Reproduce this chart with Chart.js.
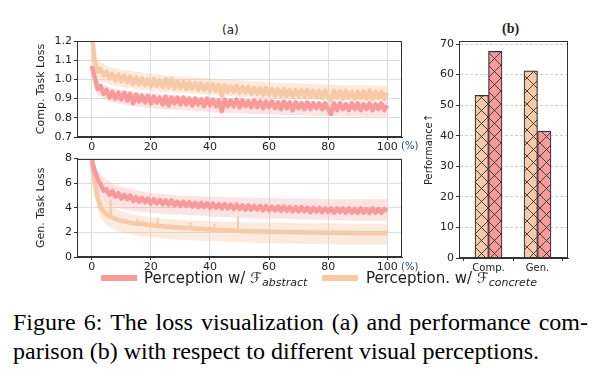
<!DOCTYPE html>
<html>
<head>
<meta charset="utf-8">
<script src="https://cdn.jsdelivr.net/npm/chart.js@4.4.0/dist/chart.umd.min.js"></script>
<style>
  body { margin: 0; width: 604px; height: 390px; background: #fff; position: relative; overflow: hidden; font-family: "DejaVu Sans", sans-serif; color: #222; }
  canvas { position: absolute; }
  .lbl { position: absolute; white-space: nowrap; }
  .swatch { position: absolute; width: 36px; height: 6px; }
  .leg { font-size: 15px; line-height: 18px; }
  .calF { font-family: "DejaVu Sans", sans-serif; font-style: italic; }
  .sub { font-size: 11px; font-style: italic; position: relative; top: 3px; }
  .pct { font-size: 10px; color: #1d3f8f; }
  .caption { position: absolute; left: 13px; font-family: "Liberation Serif", serif; font-size: 24px; line-height: 29px; color: #000; white-space: nowrap; }
</style>
</head>
<body>
<div class="lbl" style="left:222px;top:23px;font-size:12px;">(a)</div>
<div class="lbl" style="left:502px;top:21px;font-size:14px;font-family:'Liberation Serif',serif;font-weight:bold;">(b)</div>

<canvas id="compChart" width="420" height="152" style="left:0;top:0"></canvas>
<canvas id="genChart" width="420" height="122" style="left:0;top:150px"></canvas>
<canvas id="perfChart" width="184" height="275" style="left:420px;top:0"></canvas>

<div class="lbl pct" style="left:401px;top:140px;">(%)</div>
<div class="lbl pct" style="left:401px;top:261px;">(%)</div>

<div class="swatch" style="left:101px;top:275px;background:#f99a9a;"></div>
<div class="lbl leg" style="left:144px;top:269px;">Perception w/ <span class="calF">ℱ</span><span class="sub">abstract</span></div>
<div class="swatch" style="left:322px;top:275px;background:#f8c9a6;"></div>
<div class="lbl leg" style="left:366px;top:269px;">Perception. w/ <span class="calF">ℱ</span><span class="sub">concrete</span></div>

<div class="caption" style="top:308px;width:575px;text-align:justify;text-align-last:justify;">Figure 6: The loss visualization (a) and performance com-</div>
<div class="caption" style="top:337px;">parison (b) with respect to different visual perceptions.</div>

<script>
// training progress in %
const steps = Array.from({ length: 101 }, (_, i) => i);

const compAbstract = [1.07, 1.01, 0.95, 0.965, 0.925, 0.945, 0.905, 0.935, 0.90, 0.93,
  0.895, 0.93, 0.89, 0.925, 0.875, 0.92, 0.885, 0.915, 0.88, 0.915,
  0.875, 0.91, 0.88, 0.905, 0.87, 0.91, 0.865, 0.905, 0.875, 0.905,
  0.87, 0.905, 0.87, 0.90, 0.865, 0.90, 0.87, 0.895, 0.86, 0.90,
  0.865, 0.895, 0.86, 0.89, 0.835, 0.895, 0.86, 0.89, 0.86, 0.895,
  0.855, 0.89, 0.86, 0.885, 0.855, 0.89, 0.855, 0.885, 0.85, 0.885,
  0.855, 0.885, 0.85, 0.88, 0.845, 0.885, 0.85, 0.88, 0.84, 0.88,
  0.85, 0.875, 0.845, 0.88, 0.845, 0.875, 0.85, 0.875, 0.845, 0.875,
  0.845, 0.82, 0.875, 0.84, 0.875, 0.845, 0.87, 0.84, 0.875, 0.845,
  0.875, 0.84, 0.87, 0.845, 0.875, 0.84, 0.87, 0.845, 0.875, 0.84, 0.865];
const compConcrete = [1.25, 1.09, 1.04, 1.055, 1.02, 1.04, 1.005, 1.03, 0.995, 1.025,
  0.99, 1.02, 0.985, 1.015, 0.975, 1.01, 0.975, 1.005, 0.97, 1.00,
  0.965, 1.00, 0.965, 0.995, 0.96, 1.00, 0.96, 1.00, 0.955, 0.99,
  0.955, 0.985, 0.95, 0.985, 0.95, 0.98, 0.945, 0.98, 0.945, 0.975,
  0.94, 0.975, 0.94, 0.97, 0.915, 0.97, 0.935, 0.965, 0.935, 0.965,
  0.93, 0.96, 0.93, 0.96, 0.925, 0.955, 0.925, 0.955, 0.92, 0.955,
  0.92, 0.95, 0.915, 0.95, 0.915, 0.95, 0.915, 0.945, 0.91, 0.945,
  0.915, 0.945, 0.91, 0.945, 0.91, 0.94, 0.91, 0.94, 0.905, 0.94,
  0.905, 0.895, 0.94, 0.905, 0.94, 0.90, 0.94, 0.905, 0.935, 0.90,
  0.935, 0.905, 0.935, 0.90, 0.94, 0.90, 0.935, 0.905, 0.935, 0.90, 0.93];
const genAbstract = [7.9, 7.0, 6.3, 5.9, 5.4, 5.5, 5.05, 5.35, 4.9, 5.2,
  4.75, 5.05, 4.7, 5.0, 4.55, 4.85, 4.5, 4.8, 4.45, 4.75,
  4.35, 4.7, 4.35, 4.65, 4.3, 4.6, 4.25, 4.6, 4.2, 4.5,
  4.15, 4.5, 4.15, 4.45, 4.1, 4.4, 4.05, 4.4, 4.05, 4.35,
  4.0, 4.35, 4.0, 4.3, 3.95, 4.3, 3.95, 4.25, 3.9, 4.25,
  3.9, 4.2, 3.85, 4.2, 3.85, 4.15, 3.85, 4.15, 3.8, 4.15,
  3.8, 4.1, 3.8, 4.1, 3.75, 4.1, 3.75, 4.05, 3.7, 4.05,
  3.7, 4.05, 3.7, 4.0, 3.65, 4.0, 3.7, 4.0, 3.65, 3.95,
  3.65, 3.95, 3.6, 3.95, 3.65, 3.95, 3.6, 3.95, 3.6, 3.9,
  3.6, 3.95, 3.6, 3.9, 3.6, 3.95, 3.6, 3.9, 3.6, 3.9, 3.75];
const genConcrete = [7.6, 6.0, 4.8, 4.1, 3.7, 3.5, 3.3, 3.2, 3.1, 3.0,
  2.95, 2.9, 2.85, 2.8, 2.75, 2.7, 2.7, 2.7, 2.65, 2.6,
  2.6, 2.55, 2.55, 2.5, 2.5, 2.45, 2.45, 2.45, 2.4, 2.4,
  2.4, 2.35, 2.35, 2.35, 2.35, 2.3, 2.3, 2.3, 2.25, 2.25,
  2.25, 2.2, 2.2, 2.2, 2.2, 2.2, 2.15, 2.15, 2.15, 2.15,
  2.12, 2.12, 2.1, 2.1, 2.1, 2.08, 2.08, 2.07, 2.07, 2.06,
  2.06, 2.05, 2.05, 2.04, 2.04, 2.03, 2.03, 2.03, 2.02, 2.02,
  2.02, 2.01, 2.01, 2.0, 2.0, 2.0, 2.0, 1.99, 1.99, 1.99,
  1.98, 1.98, 1.98, 1.98, 1.97, 1.97, 1.97, 1.97, 1.96, 1.96,
  1.96, 1.96, 1.96, 1.95, 1.95, 1.95, 1.95, 1.95, 1.95, 1.95, 1.95];

// shaded spread around each curve
const bandSteps = [0, 1, 2, 3, 5, 7, 10, 15, 20, 25, 30, 35, 40, 45, 50, 55, 60, 65, 70, 75, 80, 85, 90, 95, 100];
const compAbstractHi = [1.10, 1.04, 1.0, 0.98, 0.965, 0.955, 0.945, 0.935, 0.925, 0.92, 0.915, 0.91, 0.905, 0.90, 0.90, 0.895, 0.895, 0.89, 0.89, 0.885, 0.885, 0.885, 0.885, 0.88, 0.88];
const compAbstractLo = [1.04, 0.95, 0.92, 0.91, 0.89, 0.88, 0.87, 0.86, 0.85, 0.845, 0.84, 0.835, 0.83, 0.825, 0.825, 0.82, 0.82, 0.815, 0.815, 0.81, 0.81, 0.81, 0.805, 0.805, 0.805];
const compConcreteHi = [1.25, 1.13, 1.10, 1.09, 1.07, 1.06, 1.05, 1.04, 1.03, 1.02, 1.015, 1.01, 1.005, 1.0, 0.995, 0.99, 0.985, 0.98, 0.98, 0.975, 0.975, 0.97, 0.97, 0.97, 0.965];
const compConcreteLo = [1.20, 1.03, 1.00, 0.99, 0.98, 0.97, 0.96, 0.95, 0.94, 0.935, 0.93, 0.925, 0.92, 0.915, 0.91, 0.905, 0.90, 0.90, 0.895, 0.895, 0.89, 0.89, 0.885, 0.885, 0.885];
const genAbstractHi = [8.0, 7.4, 7.0, 6.7, 6.3, 6.0, 5.7, 5.4, 5.2, 5.1, 5.0, 4.95, 4.9, 4.85, 4.85, 4.8, 4.8, 4.75, 4.75, 4.75, 4.7, 4.7, 4.7, 4.7, 4.7];
const genAbstractLo = [7.8, 6.6, 5.7, 5.0, 4.4, 4.1, 3.9, 3.75, 3.6, 3.5, 3.45, 3.4, 3.3, 3.25, 3.2, 3.15, 3.1, 3.1, 3.05, 3.05, 3.0, 3.0, 2.95, 2.95, 2.95];
const genConcreteHi = [7.8, 6.8, 5.8, 5.1, 4.5, 4.1, 3.7, 3.4, 3.2, 3.1, 3.0, 2.95, 2.9, 2.85, 2.85, 2.8, 2.8, 2.8, 2.75, 2.75, 2.75, 2.7, 2.7, 2.7, 2.7];
const genConcreteLo = [7.4, 5.0, 3.8, 3.2, 2.6, 2.3, 2.0, 1.75, 1.6, 1.5, 1.4, 1.35, 1.3, 1.25, 1.2, 1.15, 1.12, 1.1, 1.08, 1.05, 1.03, 1.02, 1.0, 1.0, 1.0];

// short upward spikes on the concrete curve (bottom panel)
const spikeSteps = [6.4, 15.5, 22.3, 33.4, 41.5, 49.5];
const spikeBase = [3.3, 2.7, 2.55, 2.35, 2.2, 2.15];
const spikeTop = [4.7, 3.1, 3.2, 2.8, 2.7, 3.3];

const progressTicks = [0, 20, 40, 60, 80, 100];
const compTicks = [0.7, 0.8, 0.9, 1.0, 1.1, 1.2];
const genTicks = [0, 2, 4, 6, 8];

const perfCategories = ['Comp.', 'Gen.'];
const perfConcrete = [53.2, 61.2];
const perfAbstract = [67.6, 41.5];
const perfTicks = [0, 10, 20, 30, 40, 50, 60, 70];

const RED = '#f99a9a';
const ORANGE = '#f8c9a6';
const RED_BAND = 'rgba(249,154,154,0.28)';
const ORANGE_BAND = 'rgba(248,201,166,0.38)';

const pts = (xs, ys) => xs.map((x, i) => ({ x: x, y: ys[i] }));

const frame = {
  id: 'frame',
  afterDatasetsDraw(chart) {
    const { ctx, chartArea: a } = chart;
    ctx.save();
    ctx.strokeStyle = '#333';
    ctx.lineWidth = 1;
    ctx.strokeRect(Math.round(a.left) + 0.5, Math.round(a.top) + 0.5,
      Math.round(a.right - a.left) - 1, Math.round(a.bottom - a.top) - 1);
    ctx.restore();
  }
};

function line(data, color, width) {
  return { data: data, borderColor: color, borderWidth: width, borderJoinStyle: 'round', fill: false, pointRadius: 0 };
}
function band(data, color, fill) {
  return { data: data, borderWidth: 0, borderColor: 'transparent', backgroundColor: color, fill: fill, pointRadius: 0 };
}

function lossOptions(yTicks, yTitle, padTop, fmt) {
  const tickFont = { family: 'DejaVu Sans', size: 11 };
  return {
    responsive: false,
    animation: false,
    layout: { padding: { top: padTop, right: 18, left: 0, bottom: 0 } },
    plugins: { legend: { display: false }, tooltip: { enabled: false } },
    scales: {
      x: {
        type: 'linear', min: -5, max: 105,
        afterBuildTicks: s => { s.ticks = progressTicks.map(v => ({ value: v })); },
        afterFit: s => { s.height = 15; },
        grid: { color: '#dcdcdc', tickColor: '#333', tickLength: 3 },
        border: { color: '#333' },
        ticks: { font: tickFont, color: '#222', padding: 1, maxRotation: 0, autoSkip: false }
      },
      y: {
        min: yTicks[0], max: yTicks[yTicks.length - 1],
        afterBuildTicks: s => { s.ticks = yTicks.map(v => ({ value: v })); },
        afterFit: s => { s.width = 77; },
        grid: { color: '#dcdcdc', tickColor: '#333', tickLength: 3 },
        border: { color: '#333' },
        ticks: { font: tickFont, color: '#222', padding: 2, autoSkip: false, callback: fmt },
        title: { display: true, text: yTitle, color: '#222', font: { family: 'DejaVu Sans', size: 11 }, padding: { top: 35, bottom: 0 } }
      }
    }
  };
}

new Chart(document.getElementById('compChart'), {
  type: 'line',
  data: {
    datasets: [
      line(pts(steps, compAbstract), RED, 4.5),
      line(pts(steps, compConcrete), ORANGE, 4.5),
      band(pts(bandSteps, compAbstractHi), RED_BAND, '+1'),
      band(pts(bandSteps, compAbstractLo), RED_BAND, false),
      band(pts(bandSteps, compConcreteHi), ORANGE_BAND, '+1'),
      band(pts(bandSteps, compConcreteLo), ORANGE_BAND, false)
    ]
  },
  options: lossOptions(compTicks, 'Comp. Task Loss', 41, v => v.toFixed(1)),
  plugins: [frame]
});

const spikePts = [];
spikeSteps.forEach((x, i) => {
  spikePts.push({ x: x, y: spikeBase[i] }, { x: x, y: spikeTop[i] }, { x: x, y: null });
});

new Chart(document.getElementById('genChart'), {
  type: 'line',
  data: {
    datasets: [
      line(pts(steps, genAbstract), RED, 4.5),
      line(pts(steps, genConcrete), ORANGE, 4.5),
      Object.assign(line(spikePts, ORANGE, 2), { spanGaps: false }),
      band(pts(bandSteps, genAbstractHi), RED_BAND, '+1'),
      band(pts(bandSteps, genAbstractLo), RED_BAND, false),
      band(pts(bandSteps, genConcreteHi), ORANGE_BAND, '+1'),
      band(pts(bandSteps, genConcreteLo), ORANGE_BAND, false)
    ]
  },
  options: lossOptions(genTicks, 'Gen. Task Loss', 7, v => String(v)),
  plugins: [frame]
});

function hatch(color) {
  const c = document.createElement('canvas');
  c.width = 13; c.height = 13;
  const g = c.getContext('2d');
  g.fillStyle = color;
  g.fillRect(0, 0, 13, 13);
  g.strokeStyle = '#333';
  g.lineWidth = 0.9;
  g.beginPath();
  g.moveTo(0, 0); g.lineTo(13, 13);
  g.moveTo(13, 0); g.lineTo(0, 13);
  g.stroke();
  const p = g.createPattern(c, 'repeat');
  p.setTransform(new DOMMatrix().translate(3, 0));
  return p;
}

new Chart(document.getElementById('perfChart'), {
  type: 'bar',
  data: {
    datasets: [
      { data: pts([0, 1], perfConcrete), backgroundColor: hatch(ORANGE), borderColor: '#333', borderWidth: 1.2, barThickness: 13.5 },
      { data: pts([0, 1], perfAbstract), backgroundColor: hatch(RED), borderColor: '#333', borderWidth: 1.2, barThickness: 13.5 }
    ]
  },
  options: {
    responsive: false,
    animation: false,
    layout: { padding: { top: 41, right: 36, left: 0, bottom: 0 } },
    plugins: { legend: { display: false }, tooltip: { enabled: false } },
    scales: {
      x: {
        type: 'linear', min: -0.602, max: 1.622, offset: false,
        afterBuildTicks: s => { s.ticks = perfCategories.map((_, i) => ({ value: i })); },
        afterFit: s => { s.height = 17; },
        grid: { display: true, drawOnChartArea: false, tickColor: '#333', tickLength: 3 },
        border: { color: '#333' },
        ticks: { font: { family: 'DejaVu Sans', size: 10 }, color: '#222', padding: 1, maxRotation: 0, autoSkip: false,
          callback: v => perfCategories[v] }
      },
      y: {
        min: 0, max: 71,
        afterBuildTicks: s => { s.ticks = perfTicks.map(v => ({ value: v })); },
        afterFit: s => { s.width = 39; },
        grid: { color: '#d0d0d0', tickColor: '#333', tickLength: 3 },
        border: { color: '#333', dash: [3, 2] },
        ticks: { font: { family: 'DejaVu Sans', size: 11 }, color: '#222', padding: 2, autoSkip: false },
        title: { display: true, text: 'Performance↑', color: '#222', font: { family: 'DejaVu Sans Condensed', size: 11 }, padding: { top: 3, bottom: 0 } }
      }
    }
  },
  plugins: [frame]
});
</script>
</body>
</html>
